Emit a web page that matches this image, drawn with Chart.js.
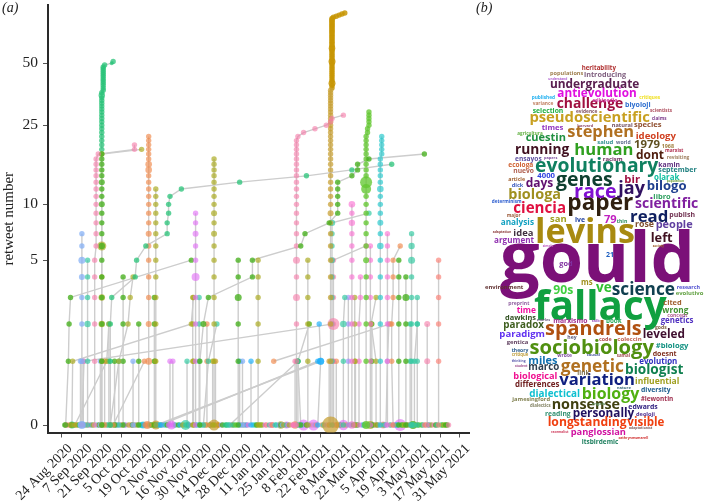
<!DOCTYPE html>
<html>
<head>
<meta charset="utf-8">
<title>Retweet cascades and word cloud</title>
<script src="https://cdn.jsdelivr.net/npm/chart.js@4/dist/chart.umd.js"></script>
<style>
  html, body { margin: 0; padding: 0; background: #fff; }
  #page { position: relative; width: 716px; height: 502px; overflow: hidden; }
  #cascadeChart { position: absolute; left: 0; top: 0; }
  #cloudChart { position: absolute; left: 480px; top: 40px; }
  .panel { position: absolute; top: 0; font: italic 14px "Liberation Serif", serif; color: #222; }
</style>
</head>
<body>
<div id="page">
  <canvas id="cascadeChart" width="490" height="502"></canvas>
  <canvas id="cloudChart" width="236" height="462"></canvas>
  <div class="panel" style="left:2px">(a)</div>
  <div class="panel" style="left:476px">(b)</div>
</div>
<script>
const tickLabels = ['24 Aug 2020', '7 Sep 2020', '21 Sep 2020', '5 Oct 2020', '19 Oct 2020', '2 Nov 2020', '16 Nov 2020',
  '30 Nov 2020', '14 Dec 2020', '28 Dec 2020', '11 Jan 2021', '25 Jan 2021', '8 Feb 2021', '22 Feb 2021', '8 Mar 2021',
  '22 Mar 2021', '5 Apr 2021', '19 Apr 2021', '3 May 2021', '17 May 2021', '31 May 2021'];
const tickDays = [0, 14, 28, 42, 56, 70, 84, 98, 112, 126, 140, 154, 168, 182, 196, 210, 224, 238, 252, 266, 280];
const retweetTicks = [0, 5, 10, 25, 50];

const blue = 'rgba(130,175,245,.72)', teal = 'rgba(50,200,160,.68)', pink = 'rgba(245,125,170,.62)';
const green = 'rgba(70,175,30,.78)', olive = 'rgba(170,170,30,.68)', sea = 'rgba(40,195,120,.75)';
const orange = 'rgba(240,140,80,.68)', purple = 'rgba(225,110,245,.62)', goldPale = 'rgba(200,160,50,.72)';
const gold = 'rgba(200,150,5,.85)', lime = 'rgba(100,200,50,.78)', cyan = 'rgba(40,200,205,.68)';
const sky = 'rgba(30,175,250,.68)', magenta = 'rgba(250,110,210,.62)', salmon = 'rgba(250,130,120,.68)';
const peri = 'rgba(150,140,250,.62)';

// days since 24 Aug 2020; a single number means the whole thread sits on that day
const threadColors = [
  blue, teal, pink, green, olive, sea, sea, green, orange, olive,
  purple, olive, green, pink, goldPale, gold, lime, cyan, magenta, magenta,
  magenta, teal, orange, green, green, teal, pink, salmon, olive, olive,
  teal, peri, olive, magenta, olive, green, pink, olive, orange, sky,
  sky, teal, olive, orange, olive, teal, pink, green, teal, blue,
  orange, teal, green, teal, green, blue, green, green, purple, purple,
  teal, olive, teal, blue, sky, green, sky, orange, teal, peri,
  blue, peri, olive, olive, olive, goldPale, pink, teal, goldPale, pink,
  orange, sky, olive, teal
];
const threadDays = [
  14, 18,
  [23, 23, 23, 23, 23, 23, 24, 24, 24, 24, 24, 24, 24, 24, 24, 24, 24, 24, 25.5, 51, 51],
  28,
  [28, 28, 28, 28, 28, 28, 28, 56],
  [28, 28, 28, 28, 28, 28, 28, 28, 28, 28, 28, 28, 28, 28, 28, 28, 28, 28, 29, 29, 29, 29, 29, 29, 29, 29, 29, 29, 29, 29, 30, 35, 36],
  [34, 34, 34, 35, 51.5, 52.5, 59, 74, 74, 75, 75, 76, 84, 125, 172, 204, 232],
  [97, 97, 99.5, 103, 134, 134, 168, 171, 188, 194, 194, 194, 194, 194, 204, 208, 208, 216, 255],
  61, 66, 94, 107, 124,
  [165, 165, 165, 165, 165, 165, 165, 165, 165, 165, 165, 165, 165, 165, 165, 165, 165, 165, 165, 165, 165, 165, 166, 170, 178, 186, 189, 190, 198],
  189,
  [190, 190, 190, 190, 190, 190, 190, 190, 190, 190, 190, 190, 190, 190, 190, 190, 190, 190, 190, 190, 190, 190, 190, 190, 190, 190, 190, 190, 190, 190, 190, 190, 190, 190, 190, 190, 190, 190, 190, 190, 190, 190, 190, 190, 190, 191, 193, 195, 197, 199],
  [214, 214, 214, 214, 214, 214, 214, 214, 214, 214, 214, 214, 214, 214, 214, 214, 214, 214, 214, 214, 214, 214, 214, 215, 215, 216, 216, 216, 216, 216],
  [224, 224, 224, 224, 224, 224, 224, 224, 224, 224, 224, 224, 224, 224, 224, 224, 224, 224, 225, 225, 225, 225, 225],
  204, 229, 217, 246,
  [233, 232, 232, 233, 233, 233, 238],
  237, 242,
  [248, 248, 250, 250], 257, 265, 138, 173,
  [198, 198, 198, 199], 201.5, 206,
  [209, 209, 209, 210, 210],
  [221, 221, 217.5, 221], 218,
  [14, 15.5, 191],
  [7, 7.5, 91, 92.5],
  [149, 231],
  [66.6, 182],
  [69, 180],
  [118, 166],
  [9, 31.5, 33],
  [36, 58],
  [34, 40, 46.5, 48, 50],
  [190, 190, 190, 190, 190, 190, 190, 190, 190, 216],
  [191, 191, 191, 191, 191, 191, 214],
  [2.6, 4.5, 5, 6, 91],
  [99.5, 103, 109], 27, 30, 33, 37, 40,
  43, 50, 54, 65, 76, 78, 88, 92,
  [96.5, 96.5, 96.5, 96.5],
  127, 133,
  [168, 166, 174],
  [180, 182, 181],
  193, 245,
  [228, 229, 230],
  13, 15, 65.5, 92.5, 106, 108, 164, 166, 188, 191, 102, 125, 206.5, 250
];
const threadCounts = [
  [0, 1, 2, 3, 4, 5, 6, 7], [0, 1, 2, 3, 4, 5],
  [0, 1, 2, 3, 4, 5, 6, 7, 8, 9, 10, 11, 12, 13, 14, 15, 16, 17, 18, 19, 20],
  [0, 1, 2, 3, 4, 5, 6, 7, 8, 9, 10, 11, 12, 13, 14, 15, 16, 17, 18],
  [0, 1, 2, 3, 4, 6, 18, 19],
  [19, 20, 21, 22, 23, 24, 25, 26, 27, 28, 29, 30, 31, 32, 33, 34, 35, 36, 37, 38, 39, 40, 41, 42, 43, 44, 45, 46, 47, 48, 49, 50, 51],
  [0, 1, 2, 3, 4, 5, 6, 7, 8, 9, 10, 11, 12, 13, 14, 15, 16],
  [0, 1, 2, 3, 4, 5, 6, 7, 8, 9, 10, 11, 12, 13, 14, 15, 16, 17, 18],
  [0, 1, 2, 3, 4, 5, 6, 7, 8, 9, 10, 11, 12, 13, 14, 15, 16, 17, 18, 19, 20, 21, 22],
  [0, 1, 2, 3, 4, 5, 6, 7, 8, 9, 10, 11, 12],
  [0, 1, 2, 3, 4, 5, 6, 7, 8, 9],
  [0, 1, 2, 3, 4, 5, 6, 7, 8, 9, 10, 11, 12, 13, 14, 15, 16, 17],
  [0, 1, 2, 3, 4, 5],
  [0, 1, 2, 3, 4, 5, 6, 7, 8, 9, 10, 11, 12, 13, 14, 15, 16, 17, 18, 19, 20, 21, 22, 23, 24, 25, 26, 27, 28],
  [0, 1, 2, 3, 4, 5, 6, 7, 8, 9, 10, 11, 12, 13, 14, 15, 16, 17, 18, 19, 20, 21, 22, 23, 24, 25, 26, 27, 28, 29, 30, 31, 32, 33, 34, 35, 36, 37],
  [38, 39, 40, 41, 42, 43, 44, 45, 46, 47, 48, 49, 50, 51, 52, 53, 54, 55, 56, 57, 58, 59, 60, 61, 62, 63, 64, 65, 66, 67, 68, 69, 70, 71, 72, 73, 74, 75, 76, 77, 78, 79, 80, 81, 82, 83, 84, 85, 86, 87],
  [0, 1, 2, 3, 4, 5, 6, 7, 8, 9, 10, 11, 12, 13, 14, 15, 16, 17, 18, 19, 20, 21, 22, 23, 24, 25, 26, 27, 28, 29],
  [0, 1, 2, 3, 4, 5, 6, 7, 8, 9, 10, 11, 12, 13, 14, 15, 16, 17, 18, 19, 20, 21, 22],
  [0, 1, 2, 3, 4, 5, 6, 7, 8, 9, 10],
  [0, 1, 2, 3, 4, 5, 6, 7],
  [0, 1, 2, 3, 4, 5, 6],
  [0, 1, 2, 3, 4, 5, 6, 7],
  [0, 1, 2, 3, 4, 5, 6],
  [0, 1, 2, 3, 4, 5],
  [0, 1, 2, 3, 4],
  [0, 1, 2, 3], [0, 1, 2], [0, 1, 2, 3, 4, 5], [0, 1, 2, 3, 4, 5], [0, 1, 2, 3, 4, 5],
  [0, 1, 2, 3], [0, 1, 2, 3], [0, 1, 2, 3],
  [0, 1, 2, 3, 4],
  [0, 1, 2, 3], [0, 1, 2],
  [0, 1, 2],
  [0, 1, 2, 3],
  [1, 2], [0, 1], [0, 1], [0, 1], [0, 1, 2], [0, 1],
  [0, 1, 2, 3, 4],
  [0, 1, 2, 3, 4, 5, 6, 7, 8, 9],
  [0, 1, 2, 3, 4, 5, 6],
  [0, 1, 2, 3, 5],
  [0, 1, 2], [0, 1], [0, 1], [0, 1, 2], [0, 1], [0, 1],
  [0, 1, 2, 3, 4], [0, 1], [0, 1, 2], [0, 1, 2, 3], [0, 1], [0, 1], [0, 1], [0, 1, 2, 3],
  [0, 1, 2, 3],
  [0, 1], [0, 1],
  [0, 1, 2], [0, 1, 2],
  [0, 1], [0, 1, 2],
  [0, 1, 2],
  [0, 1], [0, 1], [0, 1], [0, 1], [0, 1], [0, 1], [0, 1], [0, 1], [0, 1], [0, 1], [0, 1, 2], [0, 1], [0, 1], [0, 1, 2]
];
// audience size of retweets that stand out: { position in thread: radius }
const threadReach = {
  0: { 0: 4, 5: 3.5, 4: 3 },
  1: { 2: 3.2 },
  3: { 6: 3.2, 10: 3, 13: 3 },
  4: { 2: 3.3, 3: 3.3, 5: 4.5 },
  5: { 16: 3.2, 31: 2 },
  7: { 2: 3 },
  8: { 1: 3.5, 2: 3, 7: 3, 15: 3.3, 16: 3.3 },
  10: { 4: 4, 7: 3 },
  11: { 7: 3, 9: 3 },
  12: { 3: 3.5 },
  13: { 3: 3.5, 5: 3.5 },
  14: { 0: 8.5, 9: 3 },
  15: { 2: 3.5, 13: 3.5, 21: 3.3 },
  16: { 0: 4, 13: 6, 12: 5, 5: 3 },
  17: { 6: 3.3, 12: 3.3, 8: 3 },
  18: { 10: 3.3, 8: 3.2, 0: 3.8 },
  21: { 5: 3.5, 6: 3.2, 0: 3 },
  24: { 3: 3.5 },
  26: { 1: 3, 2: 3 },
  30: { 2: 3.3 },
  36: { 2: 6 },
  39: { 1: 3.5 },
  45: { 8: 3.2, 5: 3 },
  66: { 1: 3.5 }
};
const rootDays = [2, 3, 4.5, 6, 7, 8.5, 10, 11, 12, 13.5, 16, 17, 19, 20, 21, 22, 24.5, 26, 27.5, 29, 31, 32, 34, 35.5,
  38, 39, 41, 42, 44, 45, 47, 48.5, 49.5, 51, 52, 53, 55, 56, 57, 58.5, 60, 62, 63, 64, 67, 68.5, 70, 71, 72.5, 74,
  75, 79, 80, 82, 83, 85, 87, 89, 90, 93.5, 95, 98, 100, 101, 104, 105, 109, 110, 112, 113, 115, 116, 117, 119, 120,
  121, 122.5, 126, 128, 129, 130, 131, 134.5, 136, 137, 139, 140, 141, 143, 144, 146, 147, 148, 150, 151, 153, 154,
  155, 156, 158, 159, 160, 162, 163, 167, 169, 171, 172, 174, 176, 178, 179, 183, 184, 186, 188, 193.5, 195, 196, 197,
  199, 200, 203, 205, 207, 208, 211, 212, 213, 215, 216, 219, 220, 222, 223, 226, 227, 231, 232.5, 234, 235, 236,
  239, 240, 241, 243, 244, 247, 249, 251, 253, 254, 255, 256, 258, 259, 260, 262, 263, 264, 267, 268, 269, 270, 271, 272];
const rootColors = [green, pink, salmon, olive, green, teal, orange, olive, sea, peri, cyan, orange, pink, magenta, teal,
  olive, blue, green, salmon, sea, orange, teal, purple, cyan, green, peri, blue, orange, teal, purple, olive, salmon,
  green, orange, blue, olive, cyan, cyan, sky, orange, orange, teal, green, olive, gold, teal, sea, peri, cyan, green,
  purple, purple, teal, green, sky, olive, teal, sea, peri, blue, cyan, teal, peri, olive, green, orange, salmon, gold,
  peri, green, sea, sea, teal, peri, olive, sea, lime, salmon, teal, pink, sky, magenta, cyan, teal, green, olive, lime,
  olive, purple, salmon, teal, magenta, orange, cyan, teal, peri, green, blue, olive, teal, purple, olive, pink, magenta,
  teal, sky, purple, green, peri, pink, peri, salmon, orange, teal, purple, magenta, gold, salmon, sea, magenta, pink,
  orange, teal, green, sky, green, peri, cyan, teal, olive, teal, sea, pink, green, peri, olive, teal, sea, magenta,
  purple, sky, teal, green, lime, olive, green, salmon, teal, olive, green, lime, teal, pink, orange, sea, peri, olive,
  magenta, green, teal, sea, lime, olive, green];
const bigRootDays = [7, 57, 60, 66, 77, 87, 107, 148, 154, 158, 164, 170, 177, 198, 217, 226, 238, 247];
const bigRootReach = [3.5, 3.5, 4, 4.5, 4.5, 5, 5.5, 3, 3.8, 3.5, 3.8, 5.5, 5.5, 5.2, 4, 3.5, 6, 4];
const bigRootColors = [sea, cyan, orange, goldPale, purple, teal, goldPale, pink, olive, purple, orange, purple, purple, purple, olive, pink, purple, green];

const wordTexts = ['gould', 'levins', 'paper', 'race', 'jay', 'fallacy', 'spandrels', 'sociobiology', 'genetic', 'variation',
  'biology', 'nonsense', 'evolutionary', 'genes', 'human', 'stephen', 'pseudoscientific', 'challenge', 'antievolution',
  'undergraduate', 'running', 'cuestin', 'ideology', '1979', 'dont', 'bilogo', 'bir', 'days', 'biologa', 'ciencia',
  'scientific', 'read', 'people', 'publish', 'left', 'rose', 'idea', 'argument', 'analysis', 'san', 'ive', '79', 'thin',
  'science', '90s', 've', 'ms', 'god', 'environment', 'research', 'evolutivo', 'preprint', 'time', 'cited', 'wrong',
  'dawkins', 'concept', 'genetics', 'paradox', 'marxismo', 'book', 'talk', 'leveled', 'paradigm', 'gentica', 'hey', 'code',
  'coleccin', '#biology', 'theory', 'critique', 'miles', 'marco', 'doesnt', 'evolution', 'biologist', 'biological', 'link',
  'influential', 'differences', 'dialectical', 'diversity', '#lewontin', 'jamesingford', 'edwards', 'personally',
  'dialectics', 'reading', 'deoloji', 'longstanding', 'visible', 'panglossian', 'itsbirdemic', 'adaptationist',
  'cathrynmsmarell', 'racemalist', 'heritability', 'populations', 'introducing', 'published', 'variance', 'selection',
  'biyoloji', 'times', 'species', 'ensayos', 'ecologa', 'nuevo', '4000', 'article', 'dick', 'olarak', 'kamin', 'september',
  'libro', 'scientists', 'claims', 'harvard', 'natural', 'agricultura', 'salud', 'world', 'racism', '1968', 'marxist',
  'revisiting', 'determinism', 'adaptation', 'major', '21', 'population', 'critiques', 'evidence', 'wikipedia', 'papers',
  'understand', 'nature', 'engels', 'gods', 'charles', 'simple', 'society', 'thinking', 'student', 'wrote', 'causal', 'samal'];
// left, right, baseline in cloud units (1/3 px), colour
const wordLayout = [
  [60, 645, 725, '#7b1078'], [165, 465, 610, '#a88a10'], [262, 460, 510, '#302010'], [282, 410, 474, '#8010d0'], [415, 495, 463, '#301060'],
  [162, 560, 840, '#10a040'], [195, 485, 885, '#b05010'], [148, 522, 942, '#509010'], [242, 432, 995, '#b07020'], [238, 465, 1035, '#102080'],
  [305, 478, 1078, '#50b010'], [215, 420, 1106, '#404010'], [165, 535, 397, '#108060'], [228, 398, 438, '#104030'], [283, 460, 345, '#30a020'],
  [262, 462, 292, '#b07020'], [148, 510, 247, '#c8a020'], [230, 430, 205, '#a01040'], [232, 470, 172, '#e010e0'],
  [210, 478, 143, '#5a2050'], [105, 268, 342, '#401020'], [137, 258, 304, '#209040'], [467, 588, 298, '#d04020'], [462, 540, 325, '#605020'], [468, 552, 358, '#502010'],
  [500, 620, 450, '#204090'], [433, 480, 430, '#a01040'], [137, 220, 442, '#601070'], [85, 243, 478, '#a09020'], [100, 258, 520, '#e01040'],
  [465, 655, 503, '#8020a0'], [450, 565, 545, '#102060'], [527, 638, 563, '#6040a0'], [568, 645, 532, '#703050'], [512, 578, 605, '#401020'], [465, 522, 562, '#805030'],
  [100, 160, 588, '#403040'], [42, 162, 608, '#9030b0'], [62, 162, 555, '#10a0c0'], [210, 260, 545, '#a0a020'], [285, 315, 547, '#2040a0'], [372, 410, 550, '#c020c0'], [410, 442, 550, '#309060'],
  [395, 585, 765, '#104050'], [220, 280, 763, '#40d040'], [348, 395, 755, '#30c030'], [303, 338, 735, '#a09020'], [238, 278, 678, '#8030a0'],
  [15, 130, 746, '#603030'], [590, 660, 746, '#5050d0'], [587, 670, 765, '#60a040'], [85, 148, 796, '#9060a0'], [110, 168, 818, '#f010a0'], [550, 605, 796, '#a06030'], [547, 625, 818, '#409030'],
  [75, 168, 840, '#305020'], [562, 622, 832, '#b06090'], [542, 640, 850, '#5030c0'], [70, 192, 865, '#406020'], [220, 322, 849, '#a03090'], [378, 425, 850, '#30b060'], [335, 360, 846, '#a060c0'],
  [488, 615, 893, '#401030'], [58, 195, 892, '#6030f0'], [80, 145, 912, '#604060'], [262, 290, 898, '#606080'], [357, 395, 902, '#b05050'],
  [412, 485, 903, '#c06050'], [527, 625, 925, '#109080'], [95, 145, 935, '#306090'], [95, 145, 948, '#c0a040'], [145, 232, 972, '#1070b0'], [145, 238, 990, '#304050'],
  [518, 590, 947, '#803020'], [478, 592, 972, '#3030c0'], [435, 610, 1002, '#108050'], [100, 232, 1017, '#f01090'], [292, 328, 1005, '#807050'],
  [465, 598, 1032, '#a0a020'], [105, 238, 1040, '#702020'], [148, 300, 1070, '#10c0d0'], [483, 572, 1055, '#206090'], [482, 580, 1083, '#a03050'], [97, 210, 1084, '#808050'], [445, 533, 1107, '#302080'], [278, 463, 1130, '#201060'],
  [150, 212, 1100, '#808060'], [195, 272, 1127, '#309070'], [468, 525, 1128, '#503090'], [203, 440, 1158, '#f04010'], [442, 553, 1158, '#f04010'], [272, 438, 1185, '#d010a0'], [305, 415, 1213, '#208060'], [447, 517, 1168, '#806060'],
  [415, 505, 1197, '#d03030'], [213, 265, 1178, '#d04060'], [305, 408, 90, '#b03030'], [210, 310, 106, '#a08050'], [312, 438, 110, '#806080'], [155, 225, 178, '#20b0f0'], [158, 220, 196, '#c08060'], [158, 250, 218, '#20b040'],
  [435, 512, 202, '#3070d0'], [185, 250, 270, '#9030c0'], [462, 545, 262, '#905030'], [105, 185, 362, '#6050a0'], [85, 160, 382, '#d06030'], [100, 162, 400, '#b06050'], [172, 225, 415, '#3040e0'], [85, 135, 422, '#a06030'], [95, 130, 442, '#4060c0'], [522, 598, 420, '#10c0a0'], [535, 600, 380, '#603080'], [535, 650, 397, '#208080'],
  [520, 572, 476, '#30a060'], [510, 576, 217, '#b05060'], [515, 560, 241, '#804090'], [292, 340, 262, '#905070'], [395, 458, 262, '#705060'], [112, 188, 286, '#60b040'], [352, 400, 313, '#309090'], [408, 452, 313, '#607090'], [368, 428, 362, '#703060'], [545, 582, 323, '#a08040'], [555, 610, 337, '#b03050'],
  [560, 628, 358, '#a08060'], [35, 125, 490, '#3060d0'], [38, 94, 579, '#904040'], [80, 122, 530, '#a06040'], [378, 402, 650, '#2060c0'], [560, 612, 427, '#70a040'], [478, 540, 178, '#f0e020'], [288, 352, 219, '#805060'], [338, 412, 186, '#d040a0'], [192, 232, 358, '#8050a0'],
  [205, 262, 119, '#b060d0'], [410, 453, 1047, '#407080'], [335, 375, 1094, '#609060'], [525, 560, 867, '#806040'], [170, 210, 842, '#706080'], [188, 220, 622, '#c060c0'], [518, 552, 620, '#a06030'], [95, 137, 965, '#6060b0'], [105, 142, 982, '#a05090'], [232, 276, 950, '#8050a0'], [320, 360, 948, '#5060a0'], [410, 450, 950, '#a05050']
];

class Log1pScale extends Chart.LinearScale {
  static id = 'log1p';
  static defaults = {};

  buildTicks() {
    return retweetTicks.map(value => ({ value }));
  }

  getPixelForValue(value) {
    const lo = Math.log1p(this.min);
    const hi = Math.log1p(this.max);
    return this.getPixelForDecimal((Math.log1p(value) - lo) / (hi - lo));
  }
}
Chart.register(Log1pScale);

const lineGrey = 'rgb(205,205,205)';
const serif = '"Liberation Serif", serif';

function noMargins(scale) {
  scale.paddingTop = 0;
  scale.paddingBottom = 0;
  scale.paddingLeft = 0;
  scale.paddingRight = 0;
}

function buildCascadeDatasets() {
  const lines = [];
  const dots = [];
  threadCounts.forEach((counts, i) => {
    const days = threadDays[i];
    const points = counts.map((y, j) => ({ x: Array.isArray(days) ? days[j] : days, y }));
    const reach = threadReach[i] || {};
    lines.push({ data: points, showLine: true, borderColor: lineGrey, borderWidth: 1.4, pointRadius: 0, order: 3 });
    dots.push({
      data: points,
      showLine: false,
      pointBackgroundColor: threadColors[i],
      pointBorderWidth: 0,
      pointRadius: counts.map((c, j) => reach[j] || 2.7),
      order: 1
    });
  });
  dots.push({
    data: rootDays.map(x => ({ x, y: 0 })),
    showLine: false,
    pointBackgroundColor: rootColors,
    pointBorderWidth: 0,
    pointRadius: 2.7,
    order: 2
  });
  dots.push({
    data: bigRootDays.map(x => ({ x, y: 0 })),
    showLine: false,
    pointBackgroundColor: bigRootColors,
    pointBorderWidth: 0,
    pointRadius: bigRootReach,
    order: 2
  });
  return lines.concat(dots);
}

new Chart(document.querySelector('#cascadeChart'), {
  type: 'scatter',
  data: { datasets: buildCascadeDatasets() },
  options: {
    responsive: false,
    animation: false,
    layout: { autoPadding: false, padding: { top: 5, right: 21, left: 0, bottom: 0 } },
    plugins: { legend: { display: false }, tooltip: { enabled: false } },
    scales: {
      x: {
        type: 'linear',
        min: -9.85,
        max: 286.4,
        afterBuildTicks: scale => { scale.ticks = tickDays.map(value => ({ value })); },
        afterFit: scale => { scale.height = 69.5; noMargins(scale); },
        border: { display: true, color: '#2a2a2a', width: 2 },
        grid: { drawOnChartArea: false, tickLength: 5, tickColor: '#555' },
        ticks: {
          autoSkip: false,
          minRotation: 45,
          maxRotation: 45,
          padding: 3,
          labelOffset: 8,
          color: '#222',
          font: { family: serif, size: 14 },
          callback: (value, index) => tickLabels[index]
        }
      },
      y: {
        type: 'log1p',
        min: -0.078,
        max: 95,
        afterFit: scale => { scale.width = 48; noMargins(scale); },
        border: { display: true, color: '#2a2a2a', width: 2 },
        grid: { drawOnChartArea: false, tickLength: 5, tickColor: '#555' },
        ticks: {
          padding: 5,
          color: '#222',
          font: { family: serif, size: 15.5 },
          callback: value => value
        },
        title: {
          display: true,
          text: 'retweet number',
          color: '#222',
          padding: { top: 0, bottom: 0 },
          font: { family: serif, size: 15 }
        }
      }
    }
  }
});

// draws each word at its point through the scales, fitted to its width
const wordPlugin = {
  id: 'words',
  afterDatasetsDraw(chart) {
    const { ctx, scales } = chart;
    ctx.save();
    ctx.textBaseline = 'alphabetic';
    ctx.textAlign = 'center';
    wordTexts.forEach((word, i) => {
      const row = wordLayout[i];
      ctx.font = '700 100px "Open Sans", sans-serif';
      const fullWidth = ctx.measureText(word).width;
      const target = scales.x.getPixelForValue(row[1]) - scales.x.getPixelForValue(row[0]);
      ctx.font = '700 ' + (100 * target / fullWidth).toFixed(2) + 'px "Open Sans", sans-serif';
      ctx.fillStyle = row[3];
      ctx.fillText(word, scales.x.getPixelForValue((row[0] + row[1]) / 2), scales.y.getPixelForValue(row[2]));
    });
    ctx.restore();
  }
};

new Chart(document.querySelector('#cloudChart'), {
  type: 'scatter',
  data: { datasets: [{ data: wordLayout.map(row => ({ x: (row[0] + row[1]) / 2, y: row[2] })), pointRadius: 0 }] },
  options: {
    responsive: false,
    animation: false,
    layout: { autoPadding: false, padding: 0 },
    plugins: { legend: { display: false }, tooltip: { enabled: false } },
    scales: {
      x: { type: 'linear', display: false, min: 0, max: 708 },
      y: { type: 'linear', display: false, min: 0, max: 1386, reverse: true }
    }
  },
  plugins: [wordPlugin]
});
</script>
</body>
</html>
